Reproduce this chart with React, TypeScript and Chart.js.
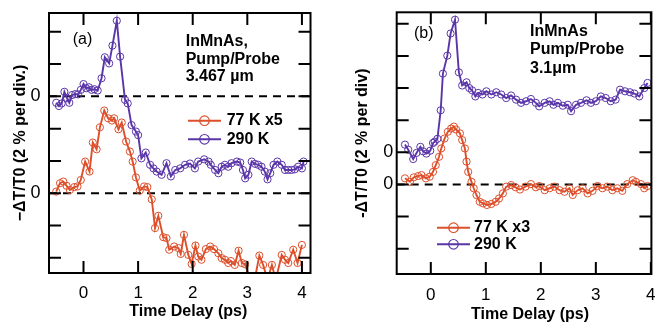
import React, { useEffect, useRef } from 'react';
import { Chart, registerables } from 'chart.js';

Chart.register(...registerables);

// ---------------- Panel (a) data : time (ps), signal (divisions) ----------------
const timeA77 = [
  -0.5, -0.43, -0.37, -0.31, -0.25, -0.17, -0.11, -0.05, 0.03, 0.11, 0.17, 0.24, 0.3, 0.38, 0.45, 0.52,
  0.56, 0.64, 0.7, 0.78, 0.85, 0.9, 0.96, 1.03, 1.11, 1.17, 1.25, 1.31, 1.37, 1.46, 1.52, 1.57,
  1.66, 1.74, 1.78, 1.84, 1.92, 1.98, 2.05, 2.1, 2.16, 2.24, 2.32, 2.39, 2.47, 2.53, 2.59, 2.65,
  2.7, 2.77, 2.84, 2.9, 2.96, 3.05, 3.14, 3.22, 3.29, 3.37, 3.45, 3.52, 3.63, 3.69, 3.75, 3.84,
  3.92, 4.0,
];
const signalA77 = [
  0.05, 0.31, 0.36, 0.23, 0.1, 0.19, 0.21, 0.41, 0.98, 0.67, 1.57, 1.36, 2.04, 2.56, 2.32, 2.25,
  2.32, 1.98, 2.19, 1.6, 1.29, 0.98, 0.49, 0.08, 0.21, 0.19, -0.19, -1.08, -0.7, -1.36, -1.39, -1.75,
  -1.65, -1.7, -1.88, -1.29, -1.91, -2.19, -1.62, -1.96, -2.06, -1.73, -1.65, -1.73, -1.86, -2.01, -2.06, -2.16,
  -2.1, -2.22, -1.78, -2.16, -2.2, -2.68, -2.63, -1.93, -2.22, -2.68, -2.22, -2.68, -1.91, -2.06, -2.16, -1.75,
  -2.16, -1.6,
];
const timeA290 = [
  -0.5, -0.45, -0.4, -0.35, -0.3, -0.26, -0.21, -0.15, -0.1, -0.05, 0.0, 0.05, 0.1, 0.15, 0.2, 0.26,
  0.33, 0.39, 0.47, 0.53, 0.61, 0.67, 0.76, 0.81, 0.88, 0.96, 1.0, 1.06, 1.14, 1.22, 1.28, 1.34,
  1.43, 1.52, 1.6, 1.68, 1.77, 1.86, 1.95, 2.04, 2.1, 2.21, 2.29, 2.33, 2.41, 2.47, 2.53, 2.59,
  2.65, 2.71, 2.81, 2.87, 2.92, 2.96, 3.02, 3.08, 3.14, 3.2, 3.26, 3.32, 3.37, 3.42, 3.48, 3.55,
  3.63, 3.69, 3.75, 3.81, 3.87, 3.93, 4.0, 4.03,
];
const signalA290 = [
  -0.2, -0.3, -0.22, 0.14, -0.06, -0.2, 0.04, 0.07, 0.06, 0.2, 0.38, 0.25, 0.28, 0.2, 0.22, 0.18,
  0.56, 1.21, 1.02, 1.57, 2.34, 1.23, -0.11, -0.22, -0.89, -1.09, -1.2, -1.92, -1.74, -2.12, -2.23, -2.33,
  -2.43, -2.07, -2.48, -2.28, -2.23, -2.12, -2.08, -2.23, -2.02, -1.95, -2.02, -2.12, -2.28, -2.38, -2.18, -2.12,
  -2.18, -2.07, -2.02, -2.05, -2.28, -2.54, -2.43, -2.02, -2.09, -2.12, -2.18, -2.33, -2.57, -2.38, -2.12, -2.02,
  -2.12, -2.28, -2.28, -2.28, -2.26, -2.18, -2.23, -2.02,
];
const offsetA290 = 3;

// ---------------- Panel (b) data ----------------
const timeB77 = [
  -0.47, -0.38, -0.31, -0.23, -0.17, -0.09, -0.02, 0.04, 0.09, 0.15, 0.19, 0.25, 0.31, 0.37, 0.42, 0.46,
  0.53, 0.57, 0.62, 0.65, 0.68, 0.74, 0.78, 0.83, 0.89, 0.95, 1.02, 1.1, 1.18, 1.24, 1.31, 1.37,
  1.46, 1.54, 1.62, 1.72, 1.82, 1.91, 1.97, 2.07, 2.16, 2.25, 2.34, 2.43, 2.52, 2.58, 2.67, 2.76,
  2.85, 2.94, 3.03, 3.12, 3.21, 3.3, 3.39, 3.48, 3.57, 3.67, 3.73, 3.82, 3.88, 3.94,
];
const signalB77 = [
  0.19, 0.08, 0.22, 0.26, 0.29, 0.19, 0.24, 0.39, 0.6, 0.86, 1.12, 1.43, 1.64, 1.74, 1.8, 1.71,
  1.59, 1.38, 1.12, 0.71, 0.39, 0.08, -0.12, -0.33, -0.54, -0.59, -0.64, -0.61, -0.54, -0.44, -0.28, -0.07,
  -0.02, -0.09, -0.16, -0.07, 0.01, -0.09, -0.05, -0.18, -0.12, -0.07, -0.18, -0.23, -0.12, -0.33, -0.18, -0.12,
  -0.28, -0.2, -0.05, -0.12, -0.07, -0.18, -0.12, -0.2, 0.01, 0.13, 0.08, 0.01, -0.12, -0.05,
];
const timeB290 = [
  -0.47, -0.41, -0.32, -0.26, -0.19, -0.14, -0.08, -0.01, 0.04, 0.07, 0.12, 0.18, 0.22, 0.3, 0.36, 0.44,
  0.51, 0.57, 0.65, 0.7, 0.75, 0.81, 0.86, 0.94, 1.01, 1.1, 1.19, 1.28, 1.37, 1.46, 1.55, 1.64,
  1.73, 1.82, 1.91, 1.97, 2.07, 2.16, 2.23, 2.31, 2.4, 2.49, 2.55, 2.64, 2.73, 2.83, 2.91, 3.0,
  3.09, 3.18, 3.27, 3.36, 3.44, 3.53, 3.62, 3.7, 3.79, 3.88, 3.94,
];
const signalB290 = [
  0.24, 0.08, -0.21, -0.02, 0.17, 0.03, -0.04, 0.05, 0.29, 0.33, 0.42, 1.31, 2.45, 3.01, 3.7, 4.13,
  2.49, 2.08, 2.18, 2.0, 1.93, 1.74, 1.85, 1.8, 1.9, 1.8, 1.87, 1.8, 1.69, 1.77, 1.64, 1.54,
  1.59, 1.66, 1.54, 1.43, 1.54, 1.59, 1.48, 1.54, 1.45, 1.48, 1.28, 1.48, 1.54, 1.62, 1.54, 1.59,
  1.74, 1.69, 1.59, 1.64, 1.95, 1.9, 1.87, 1.83, 1.74, 2.0, 2.16,
];
const offsetB290 = 1;

// ---------------- Labels ----------------
const legendA = ['77 K x5', '290 K'];
const legendB = ['77 K x3', '290 K'];
const zeroLabelsA = [0, 3];
const zeroLabelsB = [0, 1];
const dashedA = [0, 3];
const dashedB = [0];
const infoA = ['InMnAs,', 'Pump/Probe', '3.467 µm'];
const infoB = ['InMnAs', 'Pump/Probe', '3.1μm'];
const yTitleA = '\u2212\u0394T/T0 (2 % per div.)';
const yTitleB = '-\u0394T/T0 (2 % per div)';
const xTitle = 'Time Delay (ps)';

const ORANGE = '#dc4f2a';
const PURPLE = '#5a35a8';
const FONT = '"Liberation Sans", Arial, Helvetica, sans-serif';

function toPoints(t: number[], v: number[], off: number) {
  return t.map((x, i) => ({ x, y: v[i] + off }));
}

type Cfg = {
  width: number;
  height: number;
  xMin: number; xMax: number; yMin: number; yMax: number;
  yAxisWidth: number; xAxisHeight: number; padTop: number; padRight: number;
  yTitle: string; yTitlePad: number; yLabelPad: number; xLabelPad: number;
  zeros: number[]; dashed: number[];
  series: { label: string; color: string; points: { x: number; y: number }[] }[];
  panelLabel: { text: string; x: number; y: number };
  info: { lines: string[]; x: number; y0: number; dy: number };
  xTitlePos: { x: number; y: number };
  legend: { x1: number; x2: number; tx: number; y0: number; dy: number };
};

function makePlugin(cfg: Cfg) {
  return {
    id: 'panelDecor',
    beforeDatasetsDraw(chart: any) {
      const { ctx, chartArea: ca } = chart;
      const ys = chart.scales.y;
      ctx.save();
      ctx.strokeStyle = '#000';
      ctx.lineWidth = 2;
      ctx.setLineDash([8, 6]);
      cfg.dashed.forEach((z) => {
        const py = ys.getPixelForValue(z);
        ctx.beginPath();
        ctx.moveTo(ca.left, py);
        ctx.lineTo(ca.right, py);
        ctx.stroke();
      });
      ctx.restore();
    },
    afterDraw(chart: any) {
      const { ctx, chartArea: ca } = chart;
      const xs = chart.scales.x;
      const ys = chart.scales.y;
      ctx.save();
      ctx.strokeStyle = '#000';
      ctx.lineWidth = 2;
      ctx.setLineDash([]);
      ctx.strokeRect(ca.left, ca.top, ca.right - ca.left, ca.bottom - ca.top);
      const T = 12;
      for (let v = Math.ceil(xs.min); v <= Math.floor(xs.max); v++) {
        const px = xs.getPixelForValue(v);
        ctx.beginPath();
        ctx.moveTo(px, ca.bottom); ctx.lineTo(px, ca.bottom - T);
        ctx.moveTo(px, ca.top); ctx.lineTo(px, ca.top + T);
        ctx.stroke();
      }
      for (let v = Math.ceil(ys.min); v <= Math.floor(ys.max); v++) {
        const py = ys.getPixelForValue(v);
        ctx.beginPath();
        ctx.moveTo(ca.left, py); ctx.lineTo(ca.left + T, py);
        ctx.moveTo(ca.right, py); ctx.lineTo(ca.right - T, py);
        ctx.stroke();
      }
      ctx.fillStyle = '#000';
      ctx.textBaseline = 'middle';
      ctx.textAlign = 'left';
      ctx.font = `16px ${FONT}`;
      ctx.fillText(cfg.panelLabel.text, cfg.panelLabel.x, cfg.panelLabel.y);
      ctx.font = `bold 16px ${FONT}`;
      cfg.info.lines.forEach((s, i) => ctx.fillText(s, cfg.info.x, cfg.info.y0 + i * cfg.info.dy));
      ctx.textAlign = 'center';
      ctx.fillText(xTitle, cfg.xTitlePos.x, cfg.xTitlePos.y);
      ctx.textAlign = 'left';
      cfg.series.forEach((s, i) => {
        const y = cfg.legend.y0 + i * cfg.legend.dy;
        ctx.strokeStyle = s.color;
        ctx.lineWidth = 2;
        ctx.beginPath();
        ctx.moveTo(cfg.legend.x1, y); ctx.lineTo(cfg.legend.x2, y);
        ctx.stroke();
        ctx.lineWidth = 1.2;
        ctx.beginPath();
        ctx.arc((cfg.legend.x1 + cfg.legend.x2) / 2, y, 4.8, 0, Math.PI * 2);
        ctx.stroke();
        ctx.fillStyle = '#000';
        ctx.fillText(s.label, cfg.legend.tx, y);
      });
      ctx.restore();
    },
  };
}

function buildChart(canvas: HTMLCanvasElement, cfg: Cfg) {
  return new Chart(canvas, {
    type: 'line',
    data: {
      datasets: cfg.series.map((s) => ({
        label: s.label,
        data: s.points,
        borderColor: s.color,
        borderWidth: 1.9,
        pointRadius: 3.6,
        pointHoverRadius: 3.6,
        pointBorderWidth: 1,
        pointBorderColor: s.color,
        pointBackgroundColor: 'rgba(0,0,0,0)',
        tension: 0,
        fill: false,
      })),
    },
    options: {
      responsive: false,
      animation: false,
      devicePixelRatio: 1,
      layout: { padding: { left: 0, top: cfg.padTop, right: cfg.padRight, bottom: 0 } },
      plugins: { legend: { display: false }, tooltip: { enabled: false } },
      scales: {
        x: {
          type: 'linear',
          min: cfg.xMin,
          max: cfg.xMax,
          grid: { display: false, drawTicks: false },
          border: { display: false },
          ticks: {
            stepSize: 1,
            includeBounds: false,
            autoSkip: false,
            maxRotation: 0,
            padding: cfg.xLabelPad,
            color: '#000',
            font: { family: FONT, size: 17 },
            callback: (v: any) => (Number.isInteger(v) ? String(v) : ''),
          },
          afterFit: (scale: any) => {
            scale.height = cfg.xAxisHeight;
            scale.paddingLeft = 0;
            scale.paddingRight = 0;
          },
        },
        y: {
          type: 'linear',
          min: cfg.yMin,
          max: cfg.yMax,
          grid: { display: false, drawTicks: false },
          border: { display: false },
          title: {
            display: true,
            text: cfg.yTitle,
            color: '#000',
            font: { family: FONT, size: 16, weight: 'bold' },
            padding: { top: cfg.yTitlePad, bottom: 0 },
          },
          ticks: {
            stepSize: 1,
            includeBounds: false,
            autoSkip: false,
            padding: cfg.yLabelPad,
            color: '#000',
            font: { family: FONT, size: 18 },
            callback: (v: any) => (cfg.zeros.includes(v) ? '0' : ''),
          },
          afterFit: (scale: any) => {
            scale.width = cfg.yAxisWidth;
            scale.paddingTop = 0;
            scale.paddingBottom = 0;
          },
        },
      },
    },
    plugins: [makePlugin(cfg)],
  } as any);
}

const cfgA: Cfg = {
  width: 330, height: 324,
  xMin: -0.632, xMax: 4.157, yMin: -2.47, yMax: 5.58,
  yAxisWidth: 49, xAxisHeight: 51, padTop: 13, padRight: 19.5,
  yTitle: yTitleA, yTitlePad: 11.1, yLabelPad: 8.5, xLabelPad: 9.8,
  zeros: zeroLabelsA, dashed: dashedA,
  series: [
    { label: legendA[0], color: ORANGE, points: toPoints(timeA77, signalA77, 0) },
    { label: legendA[1], color: PURPLE, points: toPoints(timeA290, signalA290, offsetA290) },
  ],
  panelLabel: { text: '(a)', x: 72.7, y: 40 },
  info: { lines: infoA, x: 185.7, y0: 41.7, dy: 17.5 },
  xTitlePos: { x: 188.3, y: 312 },
  legend: { x1: 188, x2: 221, tx: 226.7, y0: 120.7, dy: 18.6 },
};

const cfgB: Cfg = {
  width: 326, height: 324,
  xMin: -0.62, xMax: 4.01, yMin: -2.79, yMax: 5.36,
  yAxisWidth: 66.7, xAxisHeight: 50, padTop: 12.3, padRight: 3.5,
  yTitle: yTitleB, yTitlePad: 23.4, yLabelPad: 3.5, xLabelPad: 10.8,
  zeros: zeroLabelsB, dashed: dashedB,
  series: [
    { label: legendB[0], color: ORANGE, points: toPoints(timeB77, signalB77, 0) },
    { label: legendB[1], color: PURPLE, points: toPoints(timeB290, signalB290, offsetB290) },
  ],
  panelLabel: { text: '(b)', x: 84, y: 33.3 },
  info: { lines: infoB, x: 200, y0: 31.7, dy: 18.3 },
  xTitlePos: { x: 200, y: 315 },
  legend: { x1: 107, x2: 140, tx: 144, y0: 227.7, dy: 16.6 },
};

function Panel({ cfg, left }: { cfg: Cfg; left: number }) {
  const ref = useRef<HTMLCanvasElement | null>(null);
  useEffect(() => {
    if (!ref.current) return;
    const chart = buildChart(ref.current, cfg);
    return () => chart.destroy();
  }, [cfg]);
  return (
    <canvas
      ref={ref}
      width={cfg.width}
      height={cfg.height}
      style={{ position: 'absolute', left, top: 0, width: cfg.width, height: cfg.height }}
    />
  );
}

export default function App() {
  return (
    <div style={{ position: 'absolute', left: 0, top: 0, width: 656, height: 324, background: '#fff', overflow: 'hidden' }}>
      <Panel cfg={cfgA} left={0} />
      <Panel cfg={cfgB} left={330} />
    </div>
  );
}
